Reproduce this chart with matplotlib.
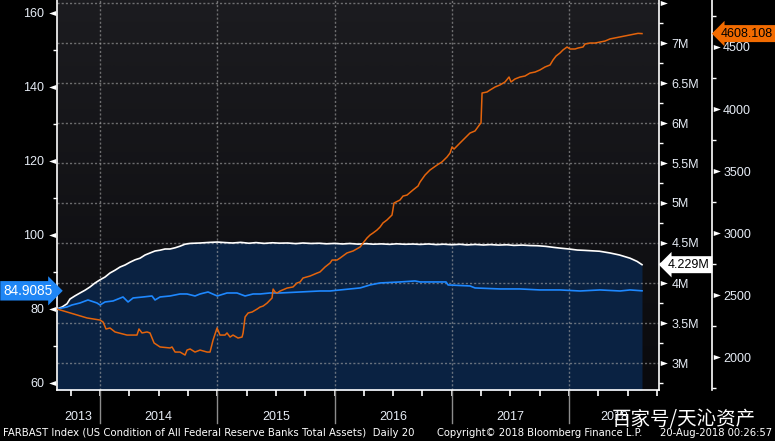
import numpy as np
import matplotlib
matplotlib.use('Agg')
import matplotlib.pyplot as plt
import matplotlib.transforms as mtransforms
from matplotlib.path import Path
from matplotlib.colors import LinearSegmentedColormap

# ---- data (decimal years) ----
# white series / filled area, middle axis (USD M)
t_assets = [2013.633, 2013.676, 2013.718, 2013.744, 2013.787, 2013.829, 2013.872, 2013.914, 2013.957,
            2014.000, 2014.043, 2014.085, 2014.128, 2014.171, 2014.213, 2014.256, 2014.299, 2014.341,
            2014.384, 2014.426, 2014.469, 2014.512, 2014.554, 2014.597, 2014.640, 2014.682, 2014.725,
            2014.768, 2014.853, 2014.938,
            2015.00, 2015.07, 2015.13, 2015.20, 2015.27, 2015.33, 2015.40, 2015.47, 2015.53, 2015.60,
            2015.67, 2015.73, 2015.80, 2015.87, 2015.93, 2016.00, 2016.07, 2016.13, 2016.20, 2016.27,
            2016.33, 2016.40, 2016.47, 2016.53, 2016.60, 2016.67, 2016.73, 2016.80, 2016.87, 2016.93,
            2017.00, 2017.07, 2017.13, 2017.20, 2017.27, 2017.33, 2017.40, 2017.47, 2017.53, 2017.60,
            2017.67, 2017.73, 2017.80, 2017.87, 2017.93, 2018.00, 2018.07, 2018.13, 2018.20, 2018.26,
            2018.35, 2018.43, 2018.52, 2018.58, 2018.622]
assets = [3.675, 3.70, 3.74, 3.80, 3.84, 3.875, 3.91, 3.95, 4.00,
          4.04, 4.075, 4.125, 4.16, 4.20, 4.225, 4.26, 4.29, 4.31,
          4.35, 4.375, 4.40, 4.41, 4.425, 4.425, 4.44, 4.46, 4.485,
          4.495, 4.50, 4.508,
          4.512, 4.505, 4.500, 4.508, 4.497, 4.505, 4.495, 4.503, 4.498, 4.500,
          4.492, 4.500, 4.494, 4.497, 4.490, 4.495, 4.488, 4.494, 4.486, 4.492,
          4.485, 4.489, 4.483, 4.490, 4.484, 4.487, 4.482, 4.488, 4.480, 4.485,
          4.478, 4.484, 4.476, 4.482, 4.475, 4.480, 4.474, 4.478, 4.470, 4.474,
          4.468, 4.466, 4.458, 4.445, 4.435, 4.425, 4.412, 4.408, 4.402, 4.397,
          4.375, 4.350, 4.310, 4.270, 4.229]

# blue series, left axis
t_blue = [2013.633, 2013.676, 2013.718, 2013.761, 2013.829, 2013.897, 2013.974, 2014.000, 2014.043,
          2014.111, 2014.196, 2014.239, 2014.282, 2014.367, 2014.443, 2014.469, 2014.512, 2014.597,
          2014.682, 2014.742, 2014.810, 2014.853, 2014.921, 2015.000, 2015.083, 2015.168, 2015.237,
          2015.305, 2015.365, 2015.450, 2015.535, 2015.706, 2015.876, 2015.962, 2016.047, 2016.218,
          2016.303, 2016.388, 2016.558, 2016.686, 2016.729, 2016.951, 2016.968, 2017.155, 2017.198,
          2017.411, 2017.582, 2017.752, 2017.923, 2018.093, 2018.264, 2018.435, 2018.520, 2018.622]
blue = [80.00, 80.27, 80.54, 81.08, 81.62, 82.43, 81.62, 81.08, 81.89,
        82.16, 83.24, 81.89, 82.97, 83.24, 83.51, 82.43, 83.24, 83.51,
        84.05, 84.05, 83.51, 84.05, 84.59, 83.51, 84.32, 84.32, 83.51,
        84.05, 84.05, 84.32, 84.32, 84.59, 84.86, 84.86, 85.14, 85.68,
        86.49, 87.03, 87.30, 87.57, 87.30, 87.30, 86.49, 86.22, 85.68,
        85.41, 85.41, 85.14, 85.14, 84.86, 85.14, 84.86, 85.14, 84.9085]

# orange series, far right axis
t_orange = [2013.633, 2013.718, 2013.804, 2013.889, 2014.000, 2014.026, 2014.051, 2014.085, 2014.128,
            2014.230, 2014.315, 2014.332, 2014.358, 2014.401, 2014.426, 2014.461, 2014.512, 2014.597,
            2014.614, 2014.640, 2014.682, 2014.725, 2014.742, 2014.768, 2014.810, 2014.853, 2014.913,
            2014.938, 2014.964, 2014.998, 2015.023, 2015.066, 2015.083, 2015.109, 2015.134, 2015.177,
            2015.211, 2015.220, 2015.237, 2015.263, 2015.297, 2015.340, 2015.365, 2015.391, 2015.425,
            2015.450, 2015.467, 2015.476, 2015.493, 2015.510, 2015.535, 2015.595, 2015.646, 2015.680,
            2015.706, 2015.731, 2015.791, 2015.851, 2015.876, 2015.919, 2015.962, 2015.979, 2016.021,
            2016.047, 2016.106, 2016.158, 2016.218, 2016.243, 2016.277, 2016.303, 2016.328, 2016.362,
            2016.388, 2016.413, 2016.447, 2016.490, 2016.507, 2016.558, 2016.584, 2016.618, 2016.669,
            2016.712, 2016.729, 2016.772, 2016.814, 2016.874, 2016.916, 2016.959, 2016.985, 2017.002,
            2017.019, 2017.070, 2017.113, 2017.155, 2017.198, 2017.241, 2017.249, 2017.258, 2017.300,
            2017.326, 2017.368, 2017.411, 2017.454, 2017.488, 2017.505, 2017.539, 2017.582, 2017.624,
            2017.667, 2017.710, 2017.752, 2017.795, 2017.838, 2017.863, 2017.889, 2017.923, 2017.948,
            2017.983, 2018.008, 2018.051, 2018.077, 2018.119, 2018.136, 2018.179, 2018.222, 2018.264,
            2018.307, 2018.349, 2018.392, 2018.435, 2018.477, 2018.520, 2018.563, 2018.588, 2018.622]
orange = [2387, 2363, 2339, 2315, 2298, 2282, 2226, 2234, 2202,
          2177, 2177, 2226, 2194, 2202, 2194, 2113, 2081, 2073,
          2081, 2040, 2040, 2016, 2056, 2065, 2040, 2056, 2040,
          2040, 2137, 2234, 2177, 2177, 2194, 2161, 2177, 2153,
          2161, 2194, 2323, 2355, 2363, 2387, 2403, 2411, 2435,
          2460, 2476, 2548, 2524, 2516, 2532, 2556, 2565, 2597,
          2605, 2637, 2653, 2677, 2686, 2726, 2758, 2782, 2782,
          2798, 2839, 2855, 2887, 2919, 2960, 2984, 3000, 3024,
          3048, 3081, 3105, 3145, 3242, 3266, 3298, 3306, 3347,
          3379, 3411, 3468, 3508, 3548, 3573, 3613, 3645, 3694,
          3677, 3726, 3766, 3806, 3823, 3879, 3887, 4129, 4137,
          4153, 4177, 4194, 4218, 4258, 4218, 4242, 4258, 4266,
          4290, 4298, 4315, 4339, 4355, 4395, 4427, 4452, 4476,
          4500, 4484, 4484, 4492, 4500, 4524, 4532, 4532, 4540,
          4548, 4565, 4573, 4581, 4589, 4597, 4605, 4610, 4608.108]

years = [2013, 2014, 2015, 2016, 2017, 2018]
m_ticks = [3.0, 3.5, 4.0, 4.5, 5.0, 5.5, 6.0, 6.5, 7.0, 7.5]
m_labels = ['3M', '3.5M', '4M', '4.5M', '5M', '5.5M', '6M', '6.5M', '7M', '']
left_ticks = [60, 80, 100, 120, 140, 160]
far_ticks = [2000, 2500, 3000, 3500, 4000, 4500]

# ---- style ----
tc = '#e6ecf5'
gridc = '#a8a8a8'
plt.rcParams['font.family'] = ['Liberation Sans', 'DejaVu Sans']

fig = plt.figure(figsize=(7.75, 4.41), dpi=100, facecolor='black')
ax = fig.add_axes([57/775, 51/441, 602/775, 390/441])
axl = ax.twinx()
ax3 = ax.twinx()

xmin, xmax = 2013.633, 2018.767

# background gradient
bg = LinearSegmentedColormap.from_list('bg', ['#1c1c20', '#0a0a0d'])
ax.imshow(np.linspace(0, 1, 256).reshape(-1, 1), cmap=bg, extent=[0, 1, 0, 1],
          transform=ax.transAxes, aspect='auto', zorder=0)

# host: middle axis (M)
ax.fill_between(t_assets, assets, 2.0, color='#0a2242', lw=0, zorder=1)
ax.plot(t_assets, assets, color='white', lw=1.2, zorder=3)
ax.set_xlim(xmin, xmax)
ax.set_ylim(2.6625, 7.5375)
ax.yaxis.tick_right()
ax.set_yticks(m_ticks)
ax.set_yticklabels(m_labels)
ax.set_yticks(np.arange(2.75, 7.5, 0.5), minor=True)
ax.tick_params(axis='y', which='major', length=0, pad=9, labelsize=9, labelcolor=tc)
ax.tick_params(axis='y', which='minor', length=3, width=1, color='white', direction='out')
ax.set_xticks(np.arange(2013.75, 2018.76, 0.25))
ax.tick_params(axis='x', which='major', length=4, width=1.2, color='white', labelbottom=False)
ax.set_axisbelow('line')
ax.grid(axis='y', color=gridc, ls=(0, (1.5, 1.5)), lw=1, alpha=0.6)
for yr in years[1:]:
    ax.axvline(yr, color=gridc, ls=(0, (1.5, 1.5)), lw=1, alpha=0.6, zorder=1.5)
    ax.plot([yr, yr], [0, -0.085], color='#8c8c8c', lw=1,
            transform=ax.get_xaxis_transform(), clip_on=False)
for s in ['left', 'top']:
    ax.spines[s].set_visible(False)
for s in ['right', 'bottom']:
    ax.spines[s].set_color('white')
    ax.spines[s].set_linewidth(1.2)

# year labels
spans = [xmin] + years[1:] + [xmax]
for i, yr in enumerate(years):
    ax.text((spans[i] + spans[i + 1]) / 2, -0.069, str(yr), transform=ax.get_xaxis_transform(),
            ha='center', va='center', fontsize=9, color=tc)

# left axis (blue)
axl.plot(t_blue, blue, color='#1e88ff', lw=1.2)
axl.set_ylim(58.1, 163.5)
axl.yaxis.tick_left()
axl.set_yticks(left_ticks)
axl.set_yticks([70, 90, 110, 130, 150], minor=True)
axl.tick_params(axis='y', which='major', length=0, pad=9, labelsize=9, labelcolor=tc)
axl.tick_params(axis='y', which='minor', length=3, width=1, color='white', direction='out')
for s in ['right', 'top', 'bottom']:
    axl.spines[s].set_visible(False)
axl.spines['left'].set_visible(True)
axl.spines['left'].set_color('white')
axl.spines['left'].set_linewidth(1.2)

# far right axis (orange)
ax3.plot(t_orange, orange, color='#e4640c', lw=1.1)
ax3.set_ylim(1734, 4879)
ax3.spines['right'].set_position(('axes', 1.088))
ax3.set_yticks(far_ticks)
ax3.set_yticks(np.arange(1750, 4800, 500), minor=True)
ax3.tick_params(axis='y', which='major', length=0, pad=8, labelsize=9, labelcolor=tc)
ax3.tick_params(axis='y', which='minor', length=3, width=1, color='white', direction='out')
for s in ['left', 'top', 'bottom']:
    ax3.spines[s].set_visible(False)
ax3.spines['right'].set_color('white')
ax3.spines['right'].set_linewidth(1.2)
ax.set_xlim(xmin, xmax)

# triangle tick markers
codes = [Path.MOVETO, Path.LINETO, Path.LINETO, Path.CLOSEPOLY]
tri_l = Path([(-1, 0), (-0.15, 0.3), (-0.15, -0.3), (-1, 0)], codes)
tri_r = Path([(1, 0), (0.15, 0.3), (0.15, -0.3), (1, 0)], codes)
axl.plot([0] * len(left_ticks), left_ticks, ls='none', marker=tri_l, ms=12, mew=0, color='white',
         transform=axl.get_yaxis_transform(), clip_on=False)
ax.plot([1] * len(m_ticks), m_ticks, ls='none', marker=tri_r, ms=12, mew=0, color='white',
        transform=ax.get_yaxis_transform(), clip_on=False)
ax3.plot([1.088] * len(far_ticks), far_ticks, ls='none', marker=tri_r, ms=12, mew=0, color='white',
         transform=ax3.get_yaxis_transform(), clip_on=False)

# last value labels
tr_o = mtransforms.blended_transform_factory(fig.transFigure, ax3.transData)
fig.text(721/775, orange[-1], f'{orange[-1]:.3f}', transform=tr_o, ha='left', va='center',
         fontsize=9, color='black', bbox=dict(boxstyle='larrow,pad=0.2', fc='#f26b00', ec='none'))
tr_w = mtransforms.blended_transform_factory(fig.transFigure, ax.transData)
fig.text(668/775, assets[-1], f'{assets[-1]:.3f}M', transform=tr_w, ha='left', va='center',
         fontsize=9, color='black', bbox=dict(boxstyle='larrow,pad=0.2', fc='white', ec='none'))
tr_b = mtransforms.blended_transform_factory(fig.transFigure, axl.transData)
fig.text(3/775, blue[-1], f'{blue[-1]:.4f}', transform=tr_b, ha='left', va='center',
         fontsize=9.8, color='white', bbox=dict(boxstyle='rarrow,pad=0.2', fc='#1f86f5', ec='none'))

# footer
fy = 1 - 433/441
fig.text(3/775, fy, 'FARBAST Index (US Condition of All Federal Reserve Banks Total Assets)  Daily 20',
         fontsize=7.3, color='white', va='center', family='DejaVu Sans')
fig.text(437/775, fy, 'Copyright\u00a9 2018 Bloomberg Finance L.P.', fontsize=7.2, color='white',
         va='center', family='DejaVu Sans')
fig.text(772/775, fy, '20-Aug-2018 00:26:57', fontsize=7.2, color='white', va='center', ha='right',
         family='DejaVu Sans')
fig.text(612/775, 1 - 419/441, '百家号/天沁资产', fontsize=14, color='white', va='center',
         family=['Noto Sans CJK SC', 'DejaVu Sans'])

fig.savefig('out.png', dpi=100, facecolor='black')
